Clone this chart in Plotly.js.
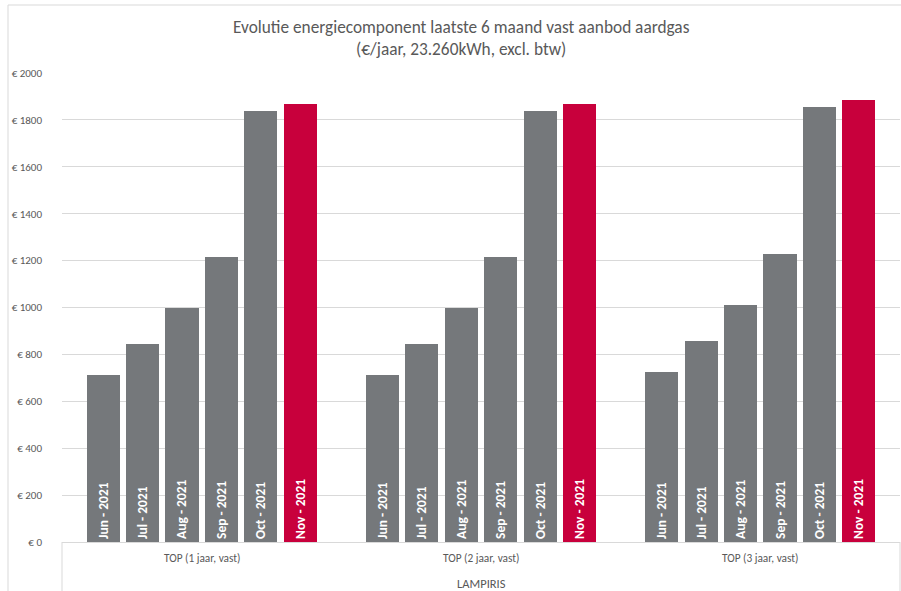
<!DOCTYPE html>
<html>
<head>
<meta charset="utf-8">
<script src="https://cdn.plot.ly/plotly-3.0.1.min.js"></script>
<style>html,body{margin:0;padding:0;background:#fff;}#chart{width:901px;height:591px;}</style>
</head>
<body>
<div id="chart"></div>
<script>
// ---- data ----
const groups = ["TOP (1 jaar, vast)", "TOP (2 jaar, vast)", "TOP (3 jaar, vast)"];
const months = ["Jun - 2021", "Jul - 2021", "Aug - 2021", "Sep - 2021", "Oct - 2021", "Nov - 2021"];
const top1 = [712, 843, 996, 1214, 1839, 1868];
const top2 = [712, 843, 996, 1214, 1839, 1868];
const top3 = [725, 856, 1011, 1229, 1854, 1884];
const supplier = "LAMPIRIS";
const titleText = "Evolutie energiecomponent laatste 6 maand vast aanbod aardgas<br>(€/jaar, 23.260kWh, excl. btw)";

// ---- build ----
const series = [top1, top2, top3];
const S = 7.09; // group span in bar slots
const FONT = "Carlito, Calibri, Lato, sans-serif";
const GRAY = "#75787B", RED = "#C8003C", TXT = "#595959", GRID = "#D9D9D9";

const xs = [], ys = [], texts = [], colors = [];
series.forEach((vals, g) => {
  vals.forEach((v, m) => {
    xs.push(g * S + m - 2.5);
    ys.push(v);
    texts.push(months[m]);
    colors.push(m === months.length - 1 ? RED : GRAY);
  });
});

const trace = {
  type: "bar",
  x: xs, y: ys,
  width: 0.84,
  text: texts,
  textposition: "inside",
  insidetextanchor: "start",
  textangle: -90,
  textfont: {family: FONT, size: 13.5, color: "#ffffff", weight: "bold"},
  marker: {color: colors, line: {width: 0}},
  hoverinfo: "x+y",
  cliponaxis: false
};

const plotW = 838, plotH = 469;

const annotations = groups.map((gname, g) => ({
  x: g * S, xref: "x", y: -0.034, yref: "paper",
  text: gname, showarrow: false, xanchor: "center", yanchor: "middle",
  font: {family: FONT, size: 11.3, color: TXT}
}));
annotations.push({
  x: 0.5, xref: "paper", y: -0.088, yref: "paper",
  text: supplier, showarrow: false, xanchor: "center", yanchor: "middle",
  font: {family: FONT, size: 12.5, color: TXT}
});
annotations.push({
  x: (461 - 62) / plotW, xref: "paper", y: (542 - 38) / plotH, yref: "paper",
  text: titleText, showarrow: false, xanchor: "center", yanchor: "middle",
  font: {family: FONT, size: 17.3, color: TXT}
});

const shapes = [
  {type: "line", xref: "paper", yref: "paper", x0: 0, x1: 0, y0: 0, y1: -49 / plotH, line: {color: GRID, width: 1}},
  {type: "line", xref: "paper", yref: "paper", x0: 1, x1: 1, y0: 0, y1: -49 / plotH, line: {color: GRID, width: 1}},
  {type: "rect", xref: "paper", yref: "paper", x0: (8 - 62) / plotW, x1: 1.2, y0: -0.3, y1: (542 - 5) / plotH, line: {color: GRID, width: 1}, layer: "below"}
];

const layout = {
  width: 901, height: 591,
  margin: {l: 62, r: 1, t: 73, b: 49},
  paper_bgcolor: "#ffffff", plot_bgcolor: "#ffffff",
  showlegend: false,
  bargap: 0,
  xaxis: {
    range: [-S / 2, 2.5 * S],
    showticklabels: false, showgrid: false, zeroline: false,
    showline: true, linecolor: GRID, linewidth: 1, ticks: "", fixedrange: true
  },
  yaxis: {
    range: [0, 2000], dtick: 200, tickprefix: "€ ",
    tickfont: {family: FONT, size: 11, color: TXT},
    showgrid: true, gridcolor: GRID, gridwidth: 1,
    zeroline: false, showline: false, ticks: "",
    ticklabelstandoff: 19, fixedrange: true
  },
  annotations: annotations,
  shapes: shapes
};

Plotly.newPlot("chart", [trace], layout, {displayModeBar: false, staticPlot: true});
</script>
</body>
</html>
